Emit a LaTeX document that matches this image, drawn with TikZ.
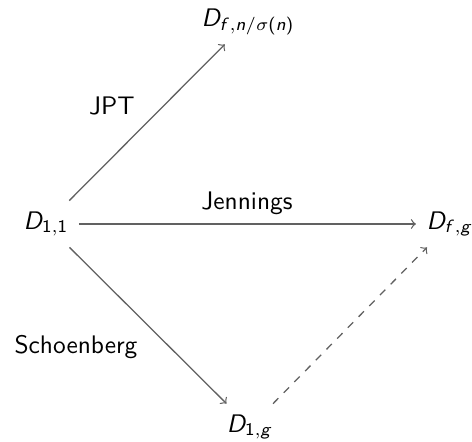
\documentclass[tikz,border=0pt]{standalone}
\usepackage{amsmath}
\usetikzlibrary{positioning,calc}
% sans serif math letters and digits
\DeclareSymbolFont{sfslanted}{OT1}{cmss}{m}{sl}
\SetSymbolFont{operators}{normal}{OT1}{cmss}{m}{n}
\DeclareMathSymbol{D}{\mathalpha}{sfslanted}{`D}
\DeclareMathSymbol{f}{\mathalpha}{sfslanted}{`f}
\DeclareMathSymbol{n}{\mathalpha}{sfslanted}{`n}
\DeclareMathSymbol{g}{\mathalpha}{sfslanted}{`g}

\begin{document}
\begin{tikzpicture}[x=0.01384cm, y=-0.01384cm,
    obj/.style={inner sep=4pt, text height=7pt, text depth=3pt},
    lbl/.style={font=\sffamily, inner sep=0pt, anchor=base},
    map/.style={draw=black!62, line width=0.5pt, ->}]
    \useasboundingbox (0,0) rectangle (472,441);

    % objects
    \node[obj] (d11) at (46,224) {$D_{1,1}$};
    \node[obj] (dfn) at (248,21) {$D_{f,n/\sigma(n)}$};
    \node[obj] (dfg) at (450,224) {$D_{f,g}$};
    \node[obj] (d1g) at (250,427) {$D_{1,g}$};

    % maps
    \draw[map] (d11) -- (dfn);
    \draw[map] (d11) -- (dfg);
    \draw[map] (d11) -- (d1g);
    \draw[map, dashed] (d1g) -- (dfg);

    % labels
    \node[lbl] (jpt) at (112,115) {JPT};
    \node[lbl] (jen) at (247,210) {Jennings};
    \node[lbl] (sch) at (76,353) {Schoenberg};
\end{tikzpicture}
\end{document}
